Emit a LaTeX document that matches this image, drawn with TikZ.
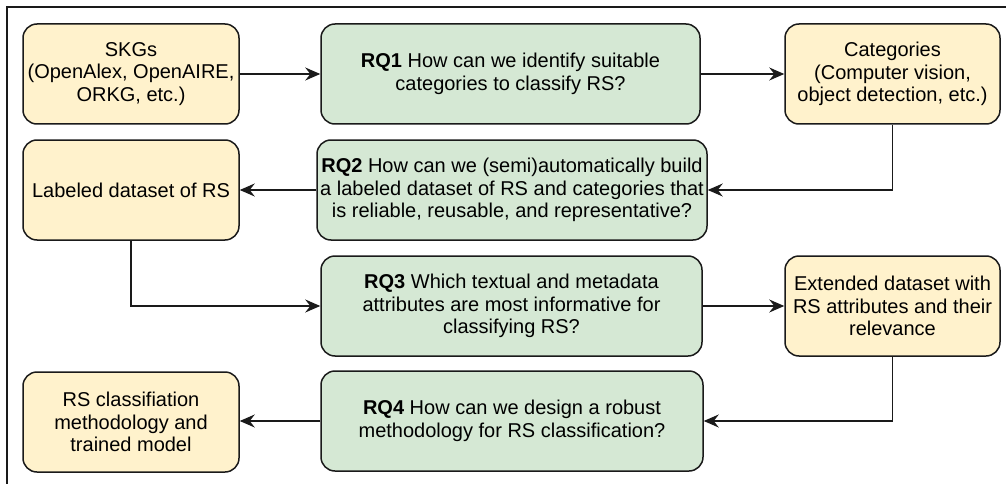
\documentclass[tikz,border=0pt]{standalone}
\usepackage{fontspec}
\setmainfont{Liberation Sans}
\usetikzlibrary{arrows.meta}
\definecolor{boxyellow}{HTML}{FFF2CC}
\definecolor{boxgreen}{HTML}{D5E8D4}
\definecolor{edge}{HTML}{1A1A1A}

\begin{document}
\begin{tikzpicture}[x=1pt, y=-1pt,
  box/.style={draw=edge, line width=1.5pt, rounded corners=14pt, align=center,
    font=\fontsize{20}{22.5}\selectfont, inner sep=0pt, text=black},
  data/.style={box, fill=boxyellow, minimum width=216pt, minimum height=100pt},
  rq/.style={box, fill=boxgreen, minimum height=100pt},
  flow/.style={draw=edge, line width=1.3pt, -{Stealth[length=15pt, width=13pt, inset=5pt]}}]

\useasboundingbox (0,0) rectangle (1006,484);
\fill[white] (0,0) rectangle (1006,484);

% outer frame (left and top edges)
\draw[edge, line width=1.6pt] (7,484) -- (7,7) -- (1006,7);

% row 1
\node[data] (skg) at (131,74) {SKGs\\(OpenAlex, OpenAIRE,\\ORKG, etc.)};
\node[rq, minimum width=379pt] (rq1) at (510.5,74)
  {\textbf{RQ1} How can we identify suitable\\categories to classify RS?};
\node[data, minimum width=215pt] (cat) at (892.5,74)
  {Categories\\(Computer vision,\\object detection, etc.)};

% row 2
\node[data] (lab) at (131,190) {Labeled dataset of RS};
\node[rq, minimum width=390pt] (rq2) at (512,190)
  {\textbf{RQ2} How can we (semi)automatically build\\a labeled dataset of RS and categories that\\is reliable, reusable, and representative?};

% row 3
\node[rq, minimum width=381pt] (rq3) at (511.5,306)
  {\textbf{RQ3} Which textual and metadata\\attributes are most informative for\\classifying RS?};
\node[data, minimum width=215pt] (ext) at (892.5,306)
  {Extended dataset with\\RS attributes and their\\relevance};

% row 4
\node[data] (out) at (131,422) {RS classifiation\\methodology and\\trained model};
\node[rq, minimum width=382pt] (rq4) at (512,421)
  {\textbf{RQ4} How can we design a robust\\methodology for RS classification?};

% connectors
\draw[flow] (skg) -- (rq1);
\draw[flow] (rq1) -- (cat);
\draw[flow] (cat.south) |- (rq2.east);
\draw[flow] (rq2) -- (lab);
\draw[flow] (lab.south) |- (rq3.west);
\draw[flow] (rq3) -- (ext);
\draw[flow] (ext.south) |- (rq4.east);
\draw[flow] (rq4.west) -- (out.east |- rq4.west);
\end{tikzpicture}
\end{document}
